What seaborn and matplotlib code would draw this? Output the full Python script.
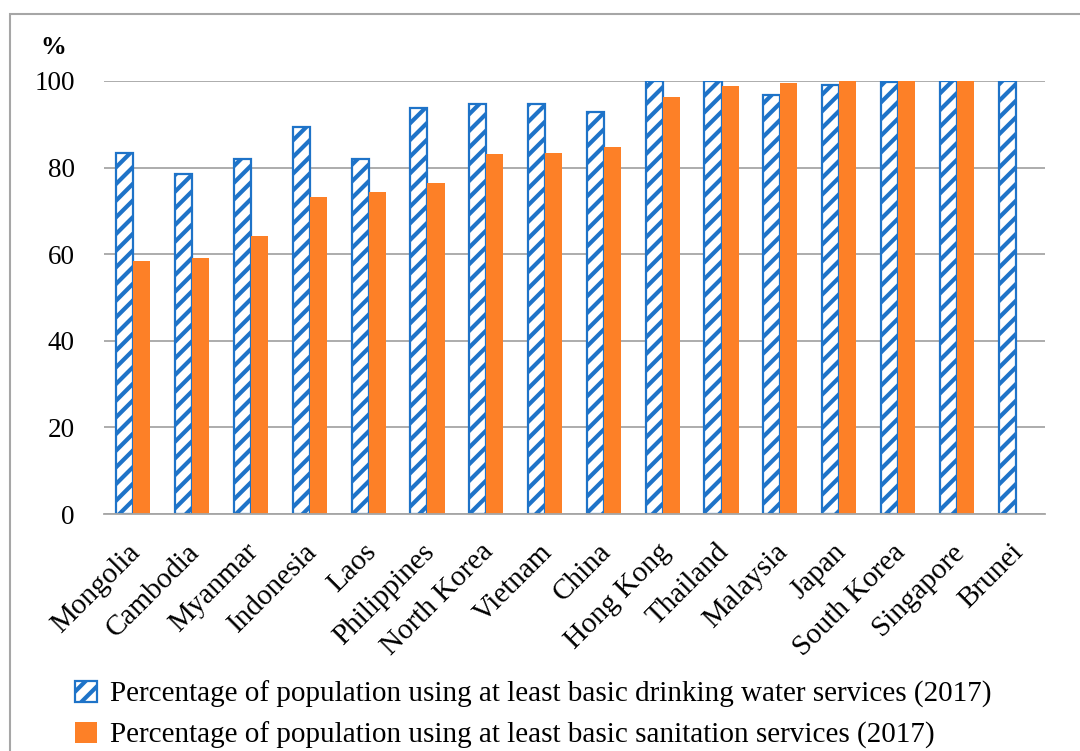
import numpy as np
import pandas as pd
import matplotlib
matplotlib.use("Agg")
import matplotlib.pyplot as plt
from matplotlib.patches import Rectangle
import seaborn as sns

countries = ["Mongolia", "Cambodia", "Myanmar", "Indonesia", "Laos", "Philippines",
             "North Korea", "Vietnam", "China", "Hong Kong", "Thailand", "Malaysia",
             "Japan", "South Korea", "Singapore", "Brunei"]
water = [83.4, 78.6, 81.9, 89.4, 82.1, 93.7, 94.6, 94.8, 92.9, 100.0, 99.9, 96.8,
         99.1, 99.8, 100.0, 99.9]
sanitation = [58.5, 59.1, 64.3, 73.1, 74.4, 76.4, 83.1, 83.4, 84.8, 96.3, 98.8, 99.5,
              99.9, 100.0, 100.0, np.nan]
series_names = ["Percentage of population using at least basic drinking water services (2017)",
                "Percentage of population using at least basic sanitation services (2017)"]
yticks = [0, 20, 40, 60, 80, 100]

BLUE = "#1E73C8"
ORANGE = "#FD8027"
GRID = "#A6A6A6"

df = pd.DataFrame({
    "country": countries * 2,
    "value": water + sanitation,
    "series": [series_names[0]] * len(countries) + [series_names[1]] * len(countries),
})

sns.set_theme(style="white")
plt.rcParams["font.family"] = ["Liberation Serif", "DejaVu Serif"]
plt.rcParams["hatch.linewidth"] = 3.0
plt.rcParams["text.color"] = "black"
plt.rcParams["xtick.color"] = "black"
plt.rcParams["ytick.color"] = "black"
FS_Y = 19.5
FS = 21

fig = plt.figure(figsize=(10.8, 7.51), dpi=100)
ax = fig.add_axes([104 / 1080, 1 - 514 / 751, (1045 - 104) / 1080, (514 - 81) / 751])

sns.barplot(data=df, x="country", y="value", hue="series", order=countries,
            hue_order=series_names, palette=[BLUE, ORANGE], width=0.58, gap=0,
            saturation=1, errorbar=None, legend=False, ax=ax)

# drinking water bars: white with blue diagonal hatching
for p in ax.containers[0]:
    p.set_facecolor("white")
    p.set_edgecolor(BLUE)
    p.set_hatch("//")
    p.set_linewidth(1.6)
for p in ax.containers[1]:
    p.set_edgecolor("none")

ax.set_ylim(0, 100)
ax.set_xlim(-0.5, len(countries) - 0.5)
ax.set_yticks(yticks)
ax.set_yticklabels([str(v) for v in yticks], fontsize=FS_Y, color="black")
ax.tick_params(axis="y", length=0, pad=21)
ax.yaxis.grid(True, color=GRID, linewidth=1.3)
ax.set_axisbelow(True)

# category boundaries carry the tick marks, labels sit just left of the centres
ax.set_xticks(np.arange(-0.5, len(countries), 1))
ax.set_xticklabels([])
ax.set_xticks(np.arange(len(countries)) - 0.1, minor=True)
ax.set_xticklabels(countries, minor=True, rotation=45, ha="right",
                   rotation_mode="anchor", fontsize=FS, color="black")
ax.tick_params(axis="x", which="major", length=9, width=1.3, color=GRID, direction="out")
ax.tick_params(axis="x", which="minor", length=0, pad=18)
ax.set_xlabel("")
ax.set_ylabel("")

for s in ["top", "right", "left"]:
    ax.spines[s].set_visible(False)
ax.spines["bottom"].set_color(GRID)
ax.spines["bottom"].set_linewidth(1.3)

fig.text(53 / 1080, 1 - 48 / 751, "%", fontsize=FS_Y - 1, fontweight="bold",
         ha="center", va="center", color="black")

handles = [ax.containers[0][0], ax.containers[1][0]]
leg = fig.legend(handles=handles, labels=series_names, loc="upper left",
                 bbox_to_anchor=(75 / 1080, 1 - 681 / 751), frameon=False, fontsize=FS,
                 handlelength=0.75, handleheight=0.75, handletextpad=0.45,
                 labelspacing=0.45, borderaxespad=0, borderpad=0)
for t in leg.get_texts():
    t.set_color("black")

# outer chart frame
fig.patches.append(Rectangle((10 / 1080, -0.2), 1.2, 1 - 14 / 751 + 0.2,
                             transform=fig.transFigure, fill=False,
                             edgecolor=GRID, linewidth=1.5))

fig.savefig("out.png", dpi=100)
